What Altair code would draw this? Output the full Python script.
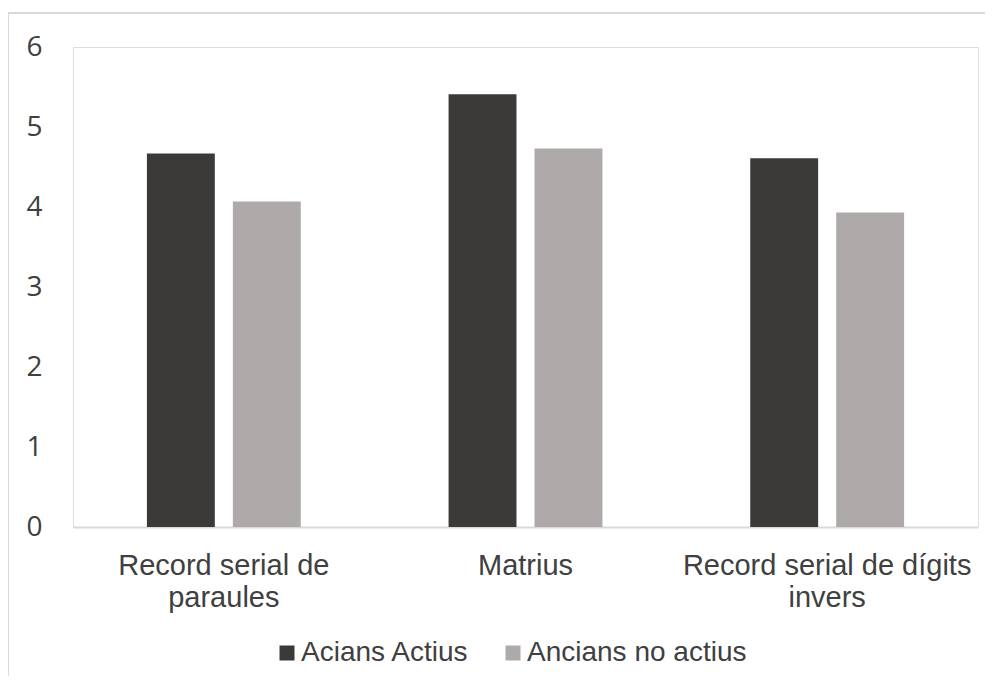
import altair as alt
import pandas as pd

categories = ["Record serial de paraules", "Matrius", "Record serial de dígits invers"]
series = ["Acians Actius", "Ancians no actius"]
actius = [4.67, 5.41, 4.61]
no_actius = [4.07, 4.73, 3.93]
colors = ["#3b3a38", "#aeaaa9"]

rows = []
for c, a, n in zip(categories, actius, no_actius):
    rows.append({"cat": c, "serie": series[0], "val": a})
    rows.append({"cat": c, "serie": series[1], "val": n})
df = pd.DataFrame(rows)

label_expr = ("datum.label == 'Record serial de paraules' ? ['Record serial de', 'paraules'] : "
              "datum.label == 'Record serial de dígits invers' ? ['Record serial de dígits', 'invers'] : datum.label")

bars = alt.Chart(df).mark_bar().encode(
    x=alt.X("cat:N", sort=categories, title=None,
            scale=alt.Scale(paddingInner=0.49, paddingOuter=0.245),
            axis=alt.Axis(labelAngle=0, labelExpr=label_expr, labelFont="Liberation Sans",
                          labelFontSize=29, labelColor="#404040", labelLineHeight=32,
                          labelPadding=24, ticks=False, domain=True, domainColor="#d9d9d9",
                          domainWidth=2, grid=False, labelLimit=400)),
    xOffset=alt.XOffset("serie:N", sort=series, scale=alt.Scale(paddingInner=0.21, paddingOuter=0)),
    y=alt.Y("val:Q", title=None,
            scale=alt.Scale(domain=[0, 6], nice=False),
            axis=alt.Axis(values=[0, 1, 2, 3, 4, 5, 6], labelFont="Open Sans", labelFontSize=28,
                          labelColor="#404040", labelPadding=31, ticks=False, domain=False,
                          grid=False)),
    color=alt.Color("serie:N", sort=series,
                    scale=alt.Scale(domain=series, range=colors),
                    legend=alt.Legend(title=None, orient="none", direction="horizontal",
                                      legendX=200, legendY=592, symbolType="square",
                                      symbolSize=225, symbolStrokeWidth=0, labelFont="Liberation Sans",
                                      labelFontSize=28, labelColor="#404040", labelOffset=0,
                                      columnPadding=29, labelLimit=400)),
)

border = alt.Chart(pd.DataFrame({"k": [0]})).mark_rect(
    fill=None, stroke="#d9d9d9", strokeWidth=2, clip=False
).encode(
    x=alt.value(-65), x2=alt.value(1200), y=alt.value(-34), y2=alt.value(1200)
)

chart = alt.layer(border, bars).properties(
    width=905, height=480,
    padding={"left": 65, "top": 39, "right": 7, "bottom": 149},
    autosize=alt.AutoSizeParams(type="none"),
).configure_view(stroke="#d6e4f2", strokeWidth=1).configure(background="white")

chart.save("out.html", embed_options={"renderer": "svg", "actions": False})
